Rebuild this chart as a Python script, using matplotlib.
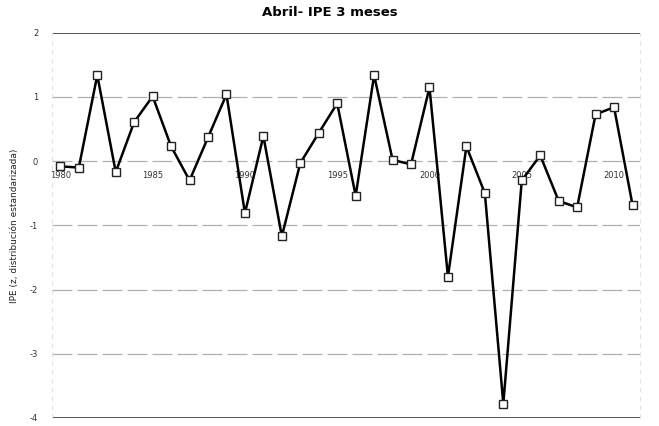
#!/usr/bin/env python3

import matplotlib

matplotlib.use("Agg")
import matplotlib.pyplot as plt

years = list(range(1980, 2012))
ipe_values = [
    -0.08, -0.10, 1.34, -0.17, 0.61, 1.01, 0.23, -0.30,
    0.37, 1.04, -0.81, 0.39, -1.17, -0.03, 0.44, 0.90,
    -0.54, 1.34, 0.02, -0.05, 1.15, -1.80, 0.23, -0.50,
    -3.78, -0.30, 0.09, -0.62, -0.72, 0.73, 0.84, -0.68,
]
label_years = [1980, 1985, 1990, 1995, 2000, 2005, 2010]
y_ticks = [2, 1, 0, -1, -2, -3, -4]

title_text = "Abril- IPE 3 meses"
y_label_text = "IPE (z, distribución estandarizada)"


def Main() -> None:
    fig = plt.figure(figsize=(6.59, 4.26), dpi=100)
    ax = fig.add_axes([0.079, 0.019, 0.892, 0.904])

    # the category axis crosses at zero, as in the spreadsheet original
    ax.spines["bottom"].set_position(("data", 0))
    ax.spines["bottom"].set_visible(False)
    ax.spines["top"].set_visible(False)
    for side in ("left", "right"):
        ax.spines[side].set_color("#e2e2e2")
        ax.spines[side].set_linestyle((0, (3, 5)))
        ax.spines[side].set_linewidth(0.8)

    positions = list(range(len(years)))
    ax.plot(
        positions,
        ipe_values,
        color="black",
        linewidth=1.8,
        marker="s",
        markersize=5.5,
        markerfacecolor="white",
        markeredgecolor="#222222",
        markeredgewidth=1.0,
        zorder=3,
    )

    ax.set_ylim(-4, 2)
    ax.set_xlim(-0.45, len(years) - 1 + 0.4)
    ax.set_yticks(y_ticks)
    ax.set_yticklabels([str(v) for v in y_ticks], fontsize=6, color="#333333")
    ax.tick_params(axis="y", length=0, pad=10)

    for value in y_ticks:
        if value in (2, -4):
            ax.axhline(value, color="#555555", linewidth=1.4, zorder=1)
        else:
            ax.axhline(
                value,
                color="#b0b0b0",
                linewidth=0.9,
                linestyle=(0, (16, 4)),
                zorder=1,
            )

    label_positions = [years.index(year) for year in label_years]
    ax.set_xticks(label_positions)
    ax.set_xticklabels(
        [str(year) for year in label_years], fontsize=6, color="#333333"
    )
    ax.tick_params(axis="x", length=0, pad=7)

    ax.set_ylabel(y_label_text, fontsize=6.5, color="#222222", labelpad=8)
    fig.suptitle(title_text, x=0.5, y=0.985, fontsize=9.5, fontweight="bold")

    fig.savefig("out.png", dpi=100)
    plt.close(fig)


if __name__ == "__main__":
    Main()
